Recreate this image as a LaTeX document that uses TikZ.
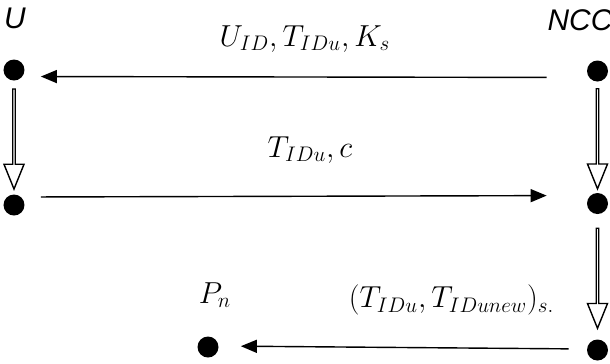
\documentclass[tikz,border=0pt]{standalone}
\usepackage{amsmath}
\usepackage{fontspec}
\newfontfamily\partyfont{Liberation Sans}
\usetikzlibrary{arrows.meta,shapes.arrows,calc}

\begin{document}
\begin{tikzpicture}[
  dot/.style={circle,fill=black,inner sep=0pt,minimum size=0.42cm},
  party/.style={font=\fontsize{17}{19}\selectfont\partyfont\itshape,inner sep=0pt},
  msglabel/.style={font=\fontsize{17}{20}\selectfont,inner sep=0pt},
  msg/.style={-{Triangle[length=3.2mm,width=2.6mm]},line width=0.8pt,draw=black},
  fatarrow/.style={single arrow,draw=black,line width=0.8pt,fill=white,inner sep=0pt,minimum width=0.4cm,
    single arrow head extend=0.1cm,single arrow tip angle=44,minimum height=2cm,shape border rotate=270}
]
\useasboundingbox (0,0) rectangle (12.2,-7.26);

\node[party] (u) at (0.3,-0.36) {U};
\node[party] (ncc) at (11.6,-0.4) {NCC};

\node[dot] (u1) at (0.28,-1.4) {};
\node[dot] (n1) at (11.95,-1.42) {};
\node[dot] (u2) at (0.28,-4.1) {};
\node[dot] (n2) at (11.95,-4.07) {};
\node[dot] (n3) at (11.95,-7.0) {};
\node[dot] (p) at (4.16,-6.94) {};

\node[msglabel] (pn) at (4.3,-5.9) {$P_n$};

\node[fatarrow] (d1) at ($(u1)!0.5!(u2)$) {};
\node[fatarrow] (d2) at ($(n1)!0.5!(n2)$) {};
\node[fatarrow] (d3) at ($(n2)!0.5!(n3)$) {};

\draw[msg,shorten <=0.8cm,shorten >=0.32cm] ([yshift=-0.13cm]n1.west) -- ([yshift=-0.13cm]u1.east);
\draw[msg,shorten <=0.32cm,shorten >=0.8cm] ([yshift=0.16cm]u2.east) -- ([yshift=0.16cm]n2.west);
\draw[msg,shorten <=0.36cm,shorten >=0.44cm] ([yshift=0.02cm]n3.west) -- ([yshift=0.02cm]p.east);

\node[msglabel] (m1) at (6.1,-0.78) {$U_{ID},T_{IDu},K_s$};
\node[msglabel] (m2) at (6.2,-3.0) {$T_{IDu},c$};
\node[msglabel] (m3) at (9.03,-6.0) {$(T_{IDu},T_{IDunew})_{s.}$};
\end{tikzpicture}
\end{document}
